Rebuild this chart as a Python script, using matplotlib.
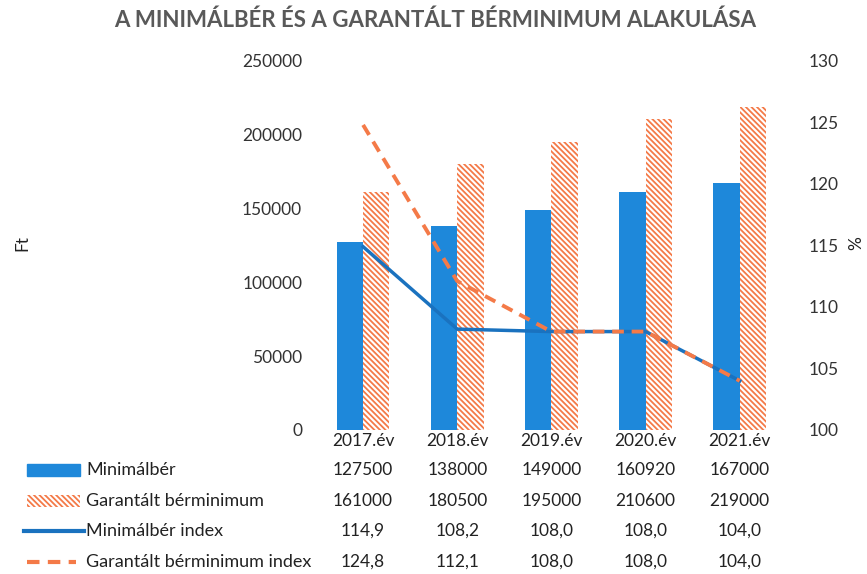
import matplotlib
matplotlib.use("Agg")
import matplotlib.pyplot as plt
import matplotlib.transforms as mtransforms
import numpy as np

# data
years = ["2017.év", "2018.év", "2019.év", "2020.év", "2021.év"]
minimalber = [127500, 138000, 149000, 160920, 167000]
garantalt = [161000, 180500, 195000, 210600, 219000]
minimalber_index = [114.9, 108.2, 108.0, 108.0, 104.0]
garantalt_index = [124.8, 112.1, 108.0, 108.0, 104.0]

minimalber_index_txt = ["114,9", "108,2", "108,0", "108,0", "104,0"]
garantalt_index_txt = ["124,8", "112,1", "108,0", "108,0", "104,0"]

BLUE = "#1E88DA"
ORANGE = "#F47A48"
LINE_BLUE = "#1A72BF"
TXT = "#222222"
FS = 12.5
HATCH = "\\" * 6

plt.rcParams["font.family"] = ["Lato", "DejaVu Sans"]
plt.rcParams["hatch.linewidth"] = 1.3

fig = plt.figure(figsize=(8.67, 5.74), dpi=100)
ax = fig.add_axes([0.3645, 0.2509, 0.543, 0.6429])
ax2 = ax.twinx()

x = np.arange(len(years))
w = 0.28
ax.bar(x - w / 2, minimalber, width=w, color=BLUE, zorder=2)
ax.bar(x + w / 2, garantalt, width=w, color="white", edgecolor=ORANGE,
       hatch=HATCH, linewidth=0, zorder=2)

ax2.plot(x, minimalber_index, color=LINE_BLUE, lw=2.5, zorder=3)
ax2.plot(x, garantalt_index, color=ORANGE, lw=2.8, ls=(0, (3, 2)), zorder=4)

ax.set_xlim(-0.5, 4.5)
ax.set_ylim(0, 250000)
ax2.set_ylim(100, 130)
ax.set_yticks(np.arange(0, 250001, 50000))
ax2.set_yticks(np.arange(100, 131, 5))
ax.set_xticks(x)
ax.set_xticklabels(years, fontsize=FS, color=TXT)
ax.tick_params(axis="x", length=0, pad=2)
ax.tick_params(axis="y", length=0, pad=10, labelsize=FS, labelcolor="#333333")
ax2.tick_params(axis="y", length=0, pad=16, labelsize=FS, labelcolor="#333333")
for a in (ax, ax2):
    for s in a.spines.values():
        s.set_visible(False)

fig.text(22 / 867, 1 - 243 / 574, "Ft", rotation=90, ha="center", va="center",
         fontsize=FS, color=TXT)
fig.text(856 / 867, 1 - 243 / 574, "%", rotation=90, ha="center", va="center",
         fontsize=FS, color=TXT)

fig.text(0.502, 0.965, "A MINIMÁLBÉR ÉS A GARANTÁLT BÉRMINIMUM ALAKULÁSA",
         ha="center", va="center", fontsize=16, fontweight="bold", color="#595959")

# data table below the chart
trans = mtransforms.blended_transform_factory(ax.transData, fig.transFigure)
rows = [
    ("Minimálbér", [str(v) for v in minimalber]),
    ("Garantált bérminimum", [str(v) for v in garantalt]),
    ("Minimálbér index", minimalber_index_txt),
    ("Garantált bérminimum index", garantalt_index_txt),
]
row_y = [470, 501, 531, 562]
for i, (name, vals) in enumerate(rows):
    yf = 1 - row_y[i] / 574
    fig.text(86 / 867, yf, name, ha="left", va="center", fontsize=13, color=TXT)
    for xi, v in zip(x, vals):
        fig.text(xi, yf, v, transform=trans, ha="center", va="center",
                 fontsize=FS, color=TXT)

# legend keys in front of row names
kx0, kx1 = 27 / 867, 80 / 867
kh = 12 / 574
y0 = 1 - row_y[0] / 574
fig.patches.append(plt.Rectangle((kx0, y0 - kh / 2), kx1 - kx0, kh,
                                 transform=fig.transFigure, color=BLUE))
y1 = 1 - row_y[1] / 574
fig.patches.append(plt.Rectangle((kx0, y1 - kh / 2), kx1 - kx0, kh,
                                 transform=fig.transFigure, facecolor="white",
                                 edgecolor=ORANGE, hatch=HATCH, linewidth=0))
y2 = 1 - row_y[2] / 574
fig.add_artist(plt.Line2D([24 / 867, 84 / 867], [y2, y2], color=LINE_BLUE, lw=3,
                          transform=fig.transFigure))
y3 = 1 - row_y[3] / 574
fig.add_artist(plt.Line2D([kx0, 76 / 867], [y3, y3], color=ORANGE, lw=3,
                          ls=(0, (3, 2)), transform=fig.transFigure))

fig.savefig("out.png", dpi=100, facecolor="white")
